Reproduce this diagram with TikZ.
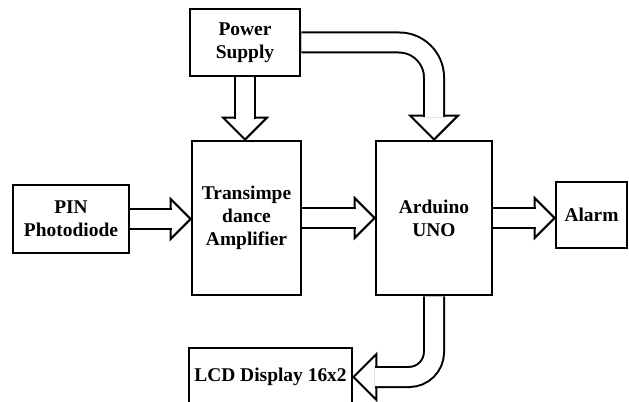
\documentclass[tikz,border=0pt]{standalone}
\usepackage{fontspec}
\setmainfont{Liberation Serif}
\usetikzlibrary{calc,backgrounds}

\begin{document}
\begin{tikzpicture}[
  x=0.03cm,y=-0.03cm,
  font=\fontsize{16.6}{19.5}\selectfont\bfseries,
  blk/.style={draw=black,line width=2.4pt,fill=white,align=center,inner sep=2pt},
  shaft/.style={line width=0.54cm,white,
                preaction={draw=black,line width=0.66cm}},
  hd/.style={fill=white,draw=black,line width=1.7pt,line join=miter},
  fathead/.pic={\filldraw[hd] (-#1,#1) -- (0,0) -- (-#1,-#1) -- cycle;},
]
\useasboundingbox (0,0) rectangle (629,402);
\clip (0,0) rectangle (629,402);

% blocks
\node[blk,minimum width=3.3cm,minimum height=2.01cm]  (ps)  at (245,42.5) {Power\\Supply};
\node[blk,minimum width=3.48cm,minimum height=2.04cm] (pin) at (71,219)   {PIN\\Photodiode};
\node[blk,minimum width=3.27cm,minimum height=4.62cm] (tia) at (246.5,218){Transimpe\\dance\\Amplifier};
\node[blk,minimum width=3.48cm,minimum height=4.62cm] (uno) at (434,218)  {Arduino\\UNO};
\node[blk,minimum width=2.13cm,minimum height=1.98cm] (alm) at (591.5,215){Alarm};
\node[blk,minimum width=4.89cm,minimum height=1.74cm] (lcd) at (270.5,377){LCD Display 16x2};

% block arrows
\begin{scope}[on background layer]
\pic at (pin.east -| tia.west) {fathead=20};
\draw[shaft] (pin.east) -- ($(pin.east -| tia.west)+(-18.5,0)$);
\pic at (tia.east -| uno.west) {fathead=20};
\draw[shaft] (tia.east) -- ($(tia.east -| uno.west)+(-18.5,0)$);
\pic at (uno.east -| alm.west) {fathead=20};
\draw[shaft] (uno.east) -- ($(uno.east -| alm.west)+(-18.5,0)$);
\pic[rotate=-90] at (ps.south |- tia.north) {fathead=22};
\draw[shaft] (ps.south) -- ($(ps.south |- tia.north)+(0,-20.5)$);
\pic[rotate=-90] at (uno.north) {fathead=24};
\draw[shaft,rounded corners=1.05cm] (ps.east) -- (ps.east -| uno.north)
  -- ($(uno.north)+(0,-22.5)$);
\pic[rotate=180] at (lcd.east) {fathead=23};
\draw[shaft,rounded corners=0.75cm] (uno.south) -- (uno.south |- lcd.east)
  -- ($(lcd.east)+(21.5,0)$);
\end{scope}
\end{tikzpicture}
\end{document}
